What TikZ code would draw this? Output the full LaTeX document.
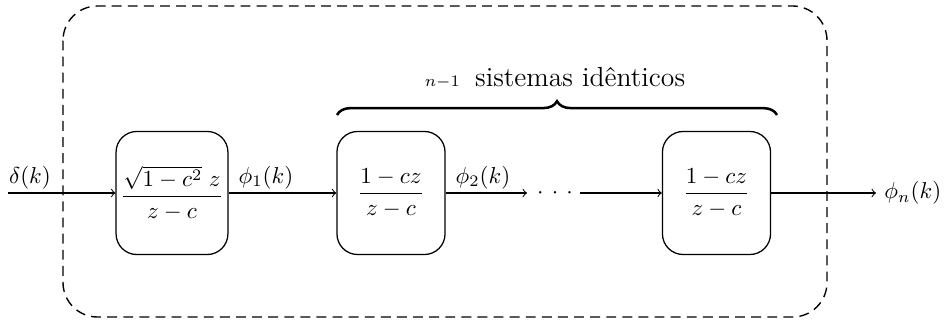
\documentclass[tikz,border=0pt]{standalone}
\usepackage{amsmath}
\usetikzlibrary{decorations.pathreplacing,calc}
\begin{document}
\begin{tikzpicture}[x=0.4348pt,y=-0.4348pt,
  blockbox/.style={draw,line width=0.55pt,rounded corners=9pt,minimum width=47pt,minimum height=53.5pt,inner sep=2pt},
  sig/.style={->,line width=0.45pt},
  frame/.style={line width=0.6pt,dash pattern=on 4.3pt off 2.7pt,rounded corners=15pt},
  lbl/.style={anchor=base,inner sep=0pt}]
\useasboundingbox (0,0) rectangle (950,324);
% outer dashed frame
\draw[frame] (63,6) rectangle (827,317);
% blocks
\node[blockbox] (b1) at (172,193) {$\dfrac{\sqrt{1-c^2}\;z}{z-c}$};
\node[blockbox] (b2) at (391,193) {$\dfrac{1-cz}{z-c}$};
\node[blockbox] (b3) at (716.5,193) {$\dfrac{1-cz}{z-c}$};
% coordinates
\coordinate (in) at (8,193);
\coordinate (d1) at (527,193);
\coordinate (d2) at (580,193);
\coordinate (out) at (876,193);
\node[inner sep=0pt] (dots) at (555,193) {${\cdot}\hspace{3.6pt}{\cdot}\hspace{3.6pt}{\cdot}$};
% connectors
\draw[sig] (in) -- (b1.west);
\draw[sig] (b1.east) -- (b2.west);
\draw[sig] (b2.east) -- (d1);
\draw[sig] (d2) -- (b3.west);
\draw[sig] (b3.east) -- (out);
% labels
\node[lbl] (l0) at (30,183) {$\delta(k)$};
\node[lbl] (l1) at (266,183) {$\phi_1(k)$};
\node[lbl] (l2) at (483,183) {$\phi_2(k)$};
\node[anchor=west,inner sep=0pt] (ln) at (884,193) {$\phi_n(k)$};
% brace
\coordinate (br1) at (337,115);
\coordinate (br2) at (777,115);
\draw[decorate,decoration={brace,amplitude=6pt},line width=1.1pt] (br1) -- (br2);
\node[lbl] (bt) at (555,86) {$\scriptstyle n-1$\ \ \large sistemas idênticos};
\end{tikzpicture}
\end{document}
